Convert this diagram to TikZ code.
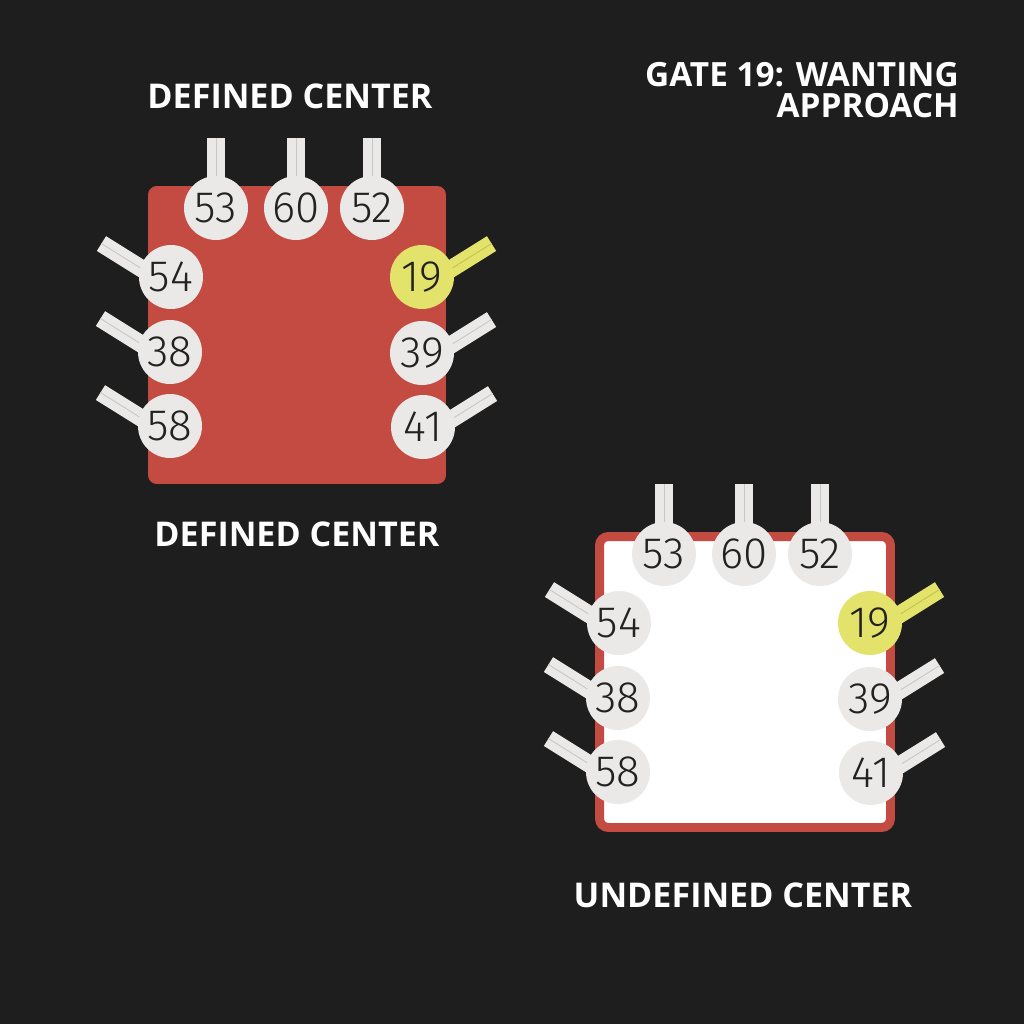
\documentclass[tikz,border=0pt]{standalone}
\usepackage{fontspec}
\setmainfont{Open Sans}
\newfontfamily\numfont{Fira Sans Light}
\definecolor{bgdark}{HTML}{1E1E1E}
\definecolor{centerred}{HTML}{C44B41}
\definecolor{gategrey}{HTML}{EBE9E7}
\definecolor{stemgrey}{HTML}{C9C7C5}
\definecolor{gateyellow}{HTML}{E3E26A}
\definecolor{stemyellow}{HTML}{C4C352}
\definecolor{digit}{HTML}{222222}
\pgfdeclarelayer{bg}
\pgfsetlayers{bg,main}
\tikzset{
  gate/.style={circle, fill=gategrey, inner sep=0pt, minimum size=1.28cm, text=digit, font=\numfont\fontsize{25}{25}\selectfont},
  active/.style={gate, fill=gateyellow},
  stem/.style={draw=gategrey, line width=4.7pt, double=stemgrey, double distance=0.5pt},
  activestem/.style={stem, draw=gateyellow, double=stemyellow},
  defbox/.style={fill=centerred, rounded corners=5pt, minimum size=5.96cm, inner sep=0pt},
  undefbox/.style={fill=white, draw=centerred, line width=5.1pt, rounded corners=5pt, minimum size=5.82cm, inner sep=0pt},
  caption/.style={text=white, font=\bfseries\fontsize{19.4}{20}\selectfont, inner sep=0pt, anchor=base},
}
\begin{document}
\begin{tikzpicture}[x=0.02cm, y=-0.02cm]
\begin{pgfonlayer}{bg}
\fill[bgdark] (0,0) rectangle (1024,1024);
\end{pgfonlayer}
\useasboundingbox (0,0) rectangle (1024,1024);

% title
\node[text=white, font=\bfseries\fontsize{19}{17.4}\selectfont, align=right, anchor=north east, inner sep=0pt] (title) at (959,62) {GATE 19: WANTING\\APPROACH};

% defined center
\node[gate] (a53) at (216,208) {53};
\node[gate] (a60) at (296,208) {60};
\node[gate] (a52) at (372,208) {52};
\node[gate] (a54) at (171,277) {54};
\node[gate] (a38) at (170,352) {38};
\node[gate] (a58) at (170,426) {58};
\node[active] (a19) at (422,277) {19};
\node[gate] (a39) at (422,353) {39};
\node[gate] (a41) at (423,427) {41};
\node[caption] (toplabel) at (290,109) {DEFINED CENTER};
\node[caption] (midlabel) at (297,546) {DEFINED CENTER};

% undefined center
\begin{scope}[shift={(448,346)}]
\node[gate] (b53) at (216,208) {53};
\node[gate] (b60) at (296,208) {60};
\node[gate] (b52) at (372,208) {52};
\node[gate] (b54) at (171,277) {54};
\node[gate] (b38) at (170,352) {38};
\node[gate] (b58) at (170,426) {58};
\node[active] (b19) at (422,277) {19};
\node[gate] (b39) at (422,353) {39};
\node[gate] (b41) at (423,427) {41};
\end{scope}
\node[caption] (botlabel) at (743,907) {UNDEFINED CENTER};

\begin{pgfonlayer}{bg}
\node[defbox] (defined) at (297,335) {};
\node[undefbox] (undefined) at (745,682) {};

% channels
\draw[stem] (a53.center) -- ++(270:70);
\draw[stem] (a60.center) -- ++(270:70);
\draw[stem] (a52.center) -- ++(270:70);
\draw[stem] ([yshift=-5.7pt]a54.center) -- ++(212:82);
\draw[stem] ([yshift=-5.7pt]a38.center) -- ++(212:82);
\draw[stem] ([yshift=-5.7pt]a58.center) -- ++(212:82);
\draw[activestem] ([yshift=-5.7pt]a19.center) -- ++(328:82);
\draw[stem] ([yshift=-5.7pt]a39.center) -- ++(328:82);
\draw[stem] ([yshift=-5.7pt]a41.center) -- ++(328:82);

\draw[stem] (b53.center) -- ++(270:70);
\draw[stem] (b60.center) -- ++(270:70);
\draw[stem] (b52.center) -- ++(270:70);
\draw[stem] ([yshift=-5.7pt]b54.center) -- ++(212:82);
\draw[stem] ([yshift=-5.7pt]b38.center) -- ++(212:82);
\draw[stem] ([yshift=-5.7pt]b58.center) -- ++(212:82);
\draw[activestem] ([yshift=-5.7pt]b19.center) -- ++(328:82);
\draw[stem] ([yshift=-5.7pt]b39.center) -- ++(328:82);
\draw[stem] ([yshift=-5.7pt]b41.center) -- ++(328:82);
\end{pgfonlayer}
\end{tikzpicture}
\end{document}
